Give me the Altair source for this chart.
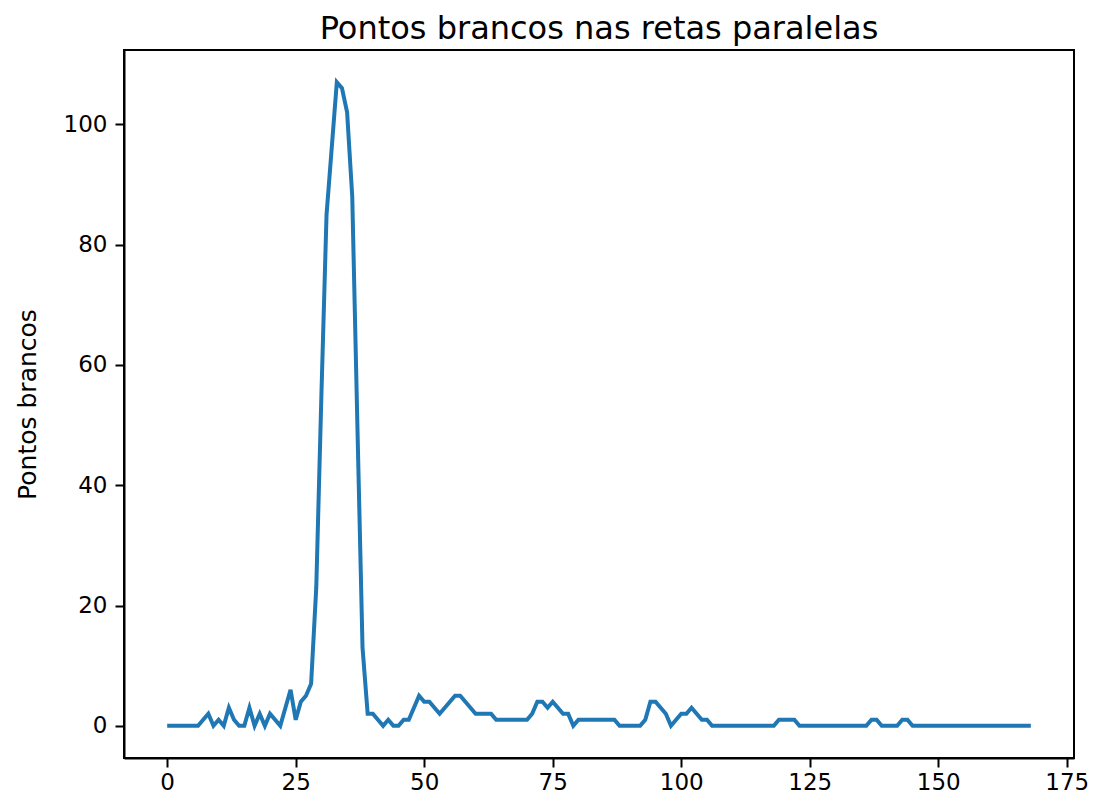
import altair as alt
import pandas as pd

title_text = "Pontos brancos nas retas paralelas"
y_label = "Pontos brancos"

pontos = [0, 0, 0, 0, 0, 0, 0, 1, 2, 0,
          1, 0, 3, 1, 0, 0, 3, 0, 2, 0,
          2, 1, 0, 3, 6, 1, 4, 5, 7, 23,
          55, 85, 96, 107, 106, 102, 88, 50, 13, 2,
          2, 1, 0, 1, 0, 0, 1, 1, 3, 5,
          4, 4, 3, 2, 3, 4, 5, 5, 4, 3,
          2, 2, 2, 2, 1, 1, 1, 1, 1, 1,
          1, 2, 4, 4, 3, 4, 3, 2, 2, 0,
          1, 1, 1, 1, 1, 1, 1, 1, 0, 0,
          0, 0, 0, 1, 4, 4, 3, 2, 0, 1,
          2, 2, 3, 2, 1, 1, 0, 0, 0, 0,
          0, 0, 0, 0, 0, 0, 0, 0, 0, 1,
          1, 1, 1, 0, 0, 0, 0, 0, 0, 0,
          0, 0, 0, 0, 0, 0, 0, 1, 1, 0,
          0, 0, 0, 1, 1, 0, 0, 0, 0, 0,
          0, 0, 0, 0, 0, 0, 0, 0, 0, 0,
          0, 0, 0, 0, 0, 0, 0, 0, 0]
indices = list(range(len(pontos)))

x_ticks = [0, 25, 50, 75, 100, 125, 150, 175]
y_ticks = [0, 20, 40, 60, 80, 100]

df = pd.DataFrame({"x": indices, "y": pontos})

FONT = "DejaVu Sans"

chart = alt.Chart(df).mark_line(color="#1f77b4", strokeWidth=4).encode(
    x=alt.X("x:Q",
            scale=alt.Scale(domain=[-8.4, 176.4], nice=False, zero=False),
            axis=alt.Axis(values=x_ticks, title=None, grid=False, labelFlush=False,
                          labelPadding=4)),
    y=alt.Y("y:Q",
            scale=alt.Scale(domain=[-5.35, 112.35], nice=False, zero=False),
            axis=alt.Axis(values=y_ticks, title=y_label, grid=False, labelFlush=False,
                          labelPadding=8)),
).properties(
    width=950,
    height=708,
    title=alt.TitleParams(text=title_text, font=FONT, fontSize=32, fontWeight="normal",
                          color="black", anchor="middle", frame="group", offset=4),
    autosize=alt.AutoSizeParams(type="none"),
    padding={"left": 116, "top": 42, "right": 15, "bottom": 40},
).configure_view(
    stroke="black", strokeWidth=2
).configure_axis(
    domainColor="black", domainWidth=2,
    tickColor="black", tickWidth=2, tickSize=9,
    labelFont=FONT, labelFontSize=23, labelColor="black",
    titleFont=FONT, titleFontSize=25, titleFontWeight="normal", titleColor="black",
    titlePadding=23,
)

chart.save("out.html", embed_options={"renderer": "svg", "actions": False})
